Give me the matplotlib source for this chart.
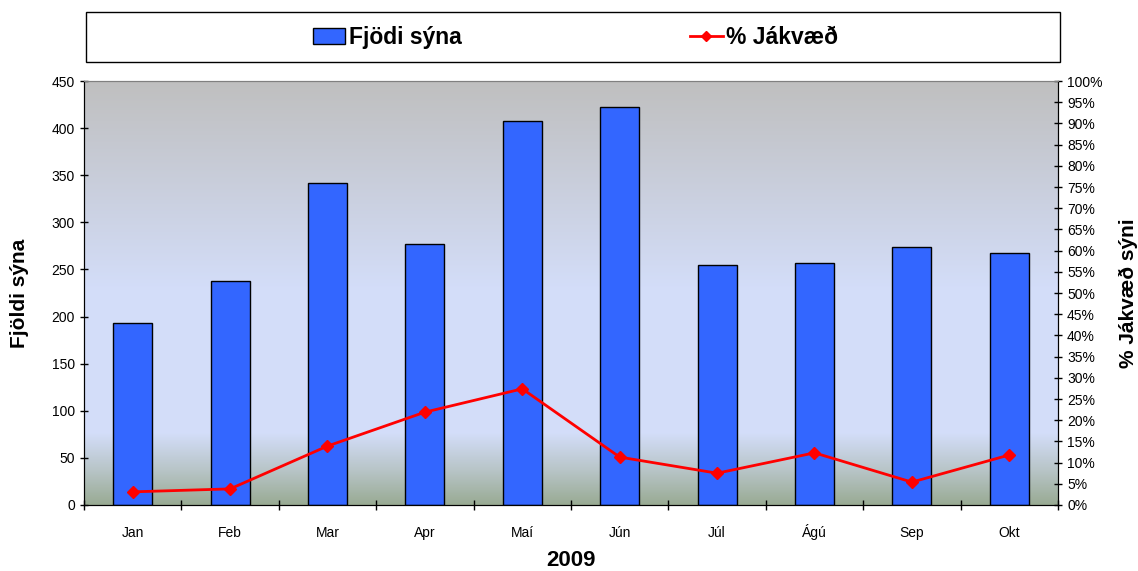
import matplotlib
matplotlib.use("Agg")
import matplotlib.pyplot as plt
import numpy as np
from matplotlib.colors import LinearSegmentedColormap
from matplotlib.patches import Rectangle
from matplotlib.lines import Line2D
from matplotlib.ticker import FixedLocator, PercentFormatter

plt.rcParams['font.family'] = ['Liberation Sans', 'DejaVu Sans']

months = ["Jan", "Feb", "Mar", "Apr", "Maí", "Jún", "Júl", "Ágú", "Sep", "Okt"]
fjoldi = [193, 238, 342, 277, 408, 423, 255, 257, 274, 268]
jakvaed = [3.1, 3.8, 13.9, 21.9, 27.4, 11.3, 7.5, 12.3, 5.4, 11.8]

fig = plt.figure(figsize=(11.38, 5.71), dpi=100)
ax = fig.add_axes([0.0738, 0.1156, 0.8559, 0.7424])

# background gradient
cmap = LinearSegmentedColormap.from_list("bg", [
    (0.0, (0.60, 0.67, 0.58)),
    (0.08, (0.72, 0.77, 0.78)),
    (0.17, (0.83, 0.87, 0.98)),
    (0.50, (0.83, 0.87, 0.98)),
    (1.0, (0.75, 0.75, 0.75)),
])
grad = np.linspace(0, 1, 256).reshape(-1, 1)
ax.imshow(grad, extent=[0, 1, 0, 1], transform=ax.transAxes, origin='lower',
          cmap=cmap, aspect='auto', zorder=0)

x = np.arange(len(months))
ax.bar(x, fjoldi, width=0.4, color='#3366FF', edgecolor='black', linewidth=1, zorder=2)
ax.set_xlim(-0.5, len(months) - 0.5)
ax.set_ylim(0, 450)
ax.set_yticks(np.arange(0, 451, 50))
ax.set_xticks(x)
ax.set_xticklabels(months)
for t in ax.get_xticklabels():
    t.set_verticalalignment('baseline')
ax.xaxis.set_minor_locator(FixedLocator(np.arange(-0.5, len(months), 1)))
ax.tick_params(axis='x', which='major', length=0, labelsize=10, pad=23)
ax.tick_params(axis='x', which='minor', length=7, direction='inout', width=1)
ax.tick_params(axis='y', length=6, direction='inout', labelsize=10, width=1)
ax.set_ylabel("Fjöldi sýna", fontsize=15, fontweight='bold', labelpad=16)
ax.set_xlabel("2009", fontsize=16, fontweight='bold', labelpad=7)

ax2 = ax.twinx()
ax2.plot(x, jakvaed, color='red', linewidth=2, marker='D', markersize=6, zorder=3)
ax2.set_ylim(0, 100)
ax2.set_yticks(np.arange(0, 101, 5))
ax2.yaxis.set_major_formatter(PercentFormatter(decimals=0))
ax2.tick_params(axis='y', length=6, direction='inout', labelsize=10, width=1)
ax2.set_ylabel("% Jákvæð sýni", fontsize=15, fontweight='bold', labelpad=12)

for a in (ax, ax2):
    a.spines['top'].set_color('#808080')
    a.spines['left'].set_color('black')
    a.spines['right'].set_color('black')
    a.spines['bottom'].set_color('black')

# legend box
fig.patches.append(Rectangle((0.0756, 0.8914), 0.8559, 0.0876, transform=fig.transFigure,
                             facecolor='white', edgecolor='black', linewidth=1))
handles = [Rectangle((0, 0), 1, 1, facecolor='#3366FF', edgecolor='black'),
           Line2D([], [], color='red', linewidth=2, marker='D', markersize=5)]
fig.legend(handles, ["Fjödi sýna", "% Jákvæð"], loc='center', bbox_to_anchor=(0.5057, 0.935),
           ncol=2, frameon=False, prop={'size': 16.5, 'weight': 'bold'},
           columnspacing=10, handlelength=1.4, handletextpad=0.17)

fig.savefig("out.png", dpi=100)
